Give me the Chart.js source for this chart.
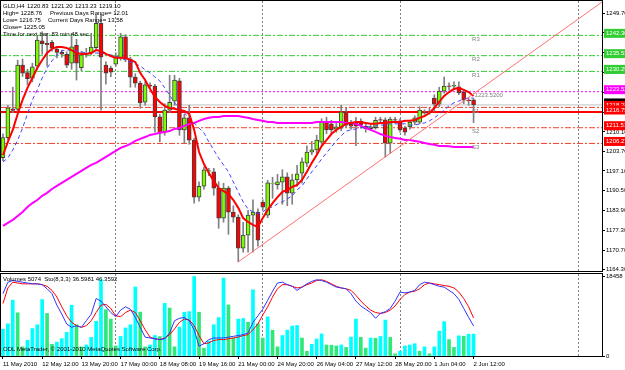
<!DOCTYPE html>
<html lang="en">
<head>
<meta charset="UTF-8">
<title>GLD,H4</title>
<script src="https://cdn.jsdelivr.net/npm/chart.js"></script>
<style>
  body { margin: 0; background: #fff; }
  .wrap { position: relative; width: 625px; height: 370px; overflow: hidden; background: #fff; }
  #priceChart { position: absolute; left: 0; top: 0; }
  #volChart { position: absolute; left: 0; top: 273px; }
</style>
</head>
<body>
<div class="wrap">
  <canvas id="priceChart" width="625" height="273"></canvas>
  <canvas id="volChart" width="625" height="97"></canvas>
</div>
<script>
// time axis: one slot per H4 candle, labels every 8 bars
const tickLabels = ['11 May 2010', '12 May 12:00', '13 May 20:00', '17 May 00:00', '18 May 08:00', '19 May 16:00',
  '21 May 00:00', '24 May 20:00', '26 May 04:00', '27 May 12:00', '28 May 20:00', '1 Jun 04:00', '2 Jun 12:00'];
const tickBars = [0, 8, 16, 24, 32, 40, 48, 56, 64, 72, 80, 88, 96];
const weekBreaks = [23, 53, 81, 117.4];

const open = [
  1201.5, 1208.2, 1217.8, 1217.6, 1232.4, 1229.9, 1228.0, 1232.0, 1240.5, 1239.6,
  1240.0, 1237.7, 1236.6, 1236.0, 1233.0, 1239.0, 1231.5, 1236.0, 1236.4, 1238.2,
  1246.3, 1232.4, 1231.4, 1232.7, 1234.8, 1241.8, 1234.4, 1228.4, 1226.4, 1220.0,
  1225.7, 1225.4, 1215.1, 1210.1, 1217.4, 1220.4, 1227.1, 1210.8, 1214.8, 1207.4,
  1188.4, 1192.0, 1197.0, 1196.8, 1191.4, 1181.4, 1191.4, 1183.4, 1181.7, 1171.4,
  1175.7, 1182.4, 1183.4, 1186.7, 1182.4, 1192.8, 1192.5, 1193.4, 1195.1, 1189.7,
  1194.1, 1196.4, 1199.7, 1203.4, 1204.1, 1206.7, 1213.4, 1212.8, 1211.0, 1211.4,
  1216.8, 1212.6, 1213.0, 1213.6, 1212.0, 1211.2, 1211.5, 1214.2, 1214.1, 1206.4,
  1214.2, 1213.8, 1211.5, 1211.8, 1213.4, 1213.4, 1216.7, 1216.5, 1221.4, 1219.4,
  1223.7, 1225.5, 1225.4, 1225.1, 1223.4, 1220.7, 1220.83];
const high = [
  1209.5, 1219.0, 1225.0, 1234.0, 1234.4, 1231.0, 1233.0, 1242.0, 1243.5, 1243.0,
  1240.6, 1238.4, 1237.4, 1236.8, 1243.0, 1241.0, 1237.0, 1238.0, 1243.0, 1249.0,
  1249.3, 1233.5, 1232.0, 1236.5, 1243.0, 1242.5, 1235.0, 1229.5, 1227.0, 1226.8,
  1226.5, 1226.0, 1216.0, 1219.5, 1229.0, 1229.0, 1228.0, 1216.0, 1219.0, 1208.0,
  1193.5, 1198.5, 1198.0, 1198.0, 1193.5, 1193.0, 1192.0, 1185.5, 1182.5, 1180.0,
  1184.0, 1187.5, 1184.5, 1187.5, 1194.0, 1195.0, 1196.0, 1197.5, 1196.5, 1196.0,
  1199.0, 1201.5, 1205.5, 1207.0, 1209.0, 1214.5, 1215.0, 1214.0, 1213.0, 1219.0,
  1218.0, 1214.0, 1215.0, 1214.5, 1213.0, 1212.5, 1215.0, 1215.0, 1214.8, 1215.0,
  1215.0, 1214.5, 1212.0, 1214.0, 1215.5, 1218.5, 1217.5, 1218.0, 1222.5, 1225.0,
  1228.4, 1226.5, 1226.8, 1226.8, 1224.0, 1221.5, 1221.20];
const low = [
  1200.5, 1207.5, 1216.5, 1216.8, 1228.6, 1225.8, 1226.8, 1231.0, 1236.0, 1232.0,
  1237.0, 1234.8, 1235.0, 1231.5, 1231.0, 1227.4, 1230.5, 1235.0, 1235.8, 1237.5,
  1217.4, 1226.0, 1228.5, 1232.0, 1234.0, 1233.5, 1225.0, 1225.0, 1218.0, 1219.0,
  1224.5, 1210.0, 1206.8, 1209.0, 1216.5, 1219.0, 1209.0, 1206.5, 1206.0, 1186.4,
  1187.0, 1191.0, 1195.5, 1189.0, 1178.0, 1180.0, 1176.0, 1180.0, 1166.8, 1170.0,
  1170.0, 1170.0, 1172.0, 1184.0, 1181.5, 1188.0, 1191.0, 1186.0, 1185.5, 1186.0,
  1192.0, 1193.0, 1198.5, 1202.5, 1203.0, 1206.0, 1209.5, 1209.5, 1210.0, 1210.5,
  1211.5, 1211.0, 1205.5, 1211.5, 1210.0, 1210.5, 1211.0, 1213.0, 1201.7, 1203.0,
  1213.0, 1210.0, 1209.0, 1211.0, 1212.5, 1212.8, 1216.0, 1216.0, 1217.0, 1218.5,
  1223.0, 1224.0, 1224.2, 1222.5, 1219.5, 1219.0, 1213.23];
const close = [
  1208.2, 1218.1, 1217.3, 1232.4, 1229.7, 1227.9, 1231.8, 1240.7, 1239.5, 1239.2,
  1238.0, 1236.6, 1236.0, 1232.4, 1238.5, 1233.0, 1235.8, 1236.3, 1238.4, 1246.3,
  1235.0, 1229.7, 1230.0, 1235.1, 1241.8, 1234.4, 1228.4, 1226.4, 1219.8, 1225.8,
  1225.4, 1215.1, 1209.7, 1217.4, 1220.0, 1227.4, 1210.8, 1214.8, 1207.4, 1188.4,
  1192.0, 1197.5, 1197.2, 1191.4, 1181.4, 1191.4, 1183.4, 1181.7, 1171.4, 1175.7,
  1182.4, 1183.4, 1174.0, 1185.0, 1193.1, 1192.9, 1193.5, 1195.1, 1189.7, 1194.1,
  1196.1, 1200.1, 1203.4, 1204.1, 1207.4, 1213.4, 1210.8, 1210.8, 1211.8, 1216.8,
  1212.4, 1212.0, 1212.0, 1212.4, 1211.2, 1211.8, 1214.0, 1214.0, 1206.4, 1214.4,
  1214.0, 1210.8, 1210.0, 1213.4, 1214.8, 1217.4, 1216.4, 1216.8, 1219.4, 1223.7,
  1225.4, 1225.3, 1225.6, 1223.1, 1220.7, 1220.5, 1219.10];

// moving averages
const maRed = [
  1202.4, 1206.8, 1210.8, 1216.1, 1220.8, 1224.8, 1228.1, 1231.4, 1234.1, 1236.4,
  1237.8, 1238.4, 1238.4, 1238.1, 1237.4, 1236.4, 1236.1, 1236.1, 1236.4, 1237.4,
  1237.1, 1236.1, 1235.4, 1234.8, 1234.8, 1234.8, 1234.1, 1233.4, 1229.8, 1227.4,
  1224.4, 1221.8, 1220.1, 1218.8, 1218.1, 1217.8, 1217.4, 1217.1, 1216.1, 1210.8,
  1203.4, 1199.4, 1196.4, 1193.8, 1191.4, 1190.4, 1189.4, 1187.4, 1184.8, 1181.4,
  1180.1, 1179.1, 1178.4, 1181.4, 1184.1, 1186.4, 1188.4, 1190.1, 1190.8, 1191.8,
  1192.4, 1194.1, 1196.8, 1199.8, 1202.4, 1205.4, 1207.4, 1209.4, 1210.8, 1211.8,
  1212.8, 1213.1, 1213.4, 1213.4, 1213.1, 1212.8, 1212.8, 1213.1, 1213.1, 1213.4,
  1213.4, 1213.4, 1213.8, 1213.8, 1214.1, 1214.8, 1215.4, 1216.4, 1218.1, 1220.1,
  1222.1, 1223.4, 1224.4, 1224.8, 1224.1, 1223.4, 1222.1];
const maBlue = [
  1200.1, 1201.4, 1204.1, 1207.4, 1211.4, 1216.1, 1220.8, 1224.1, 1228.1, 1231.4,
  1233.8, 1235.8, 1237.1, 1237.4, 1237.4, 1237.1, 1236.8, 1236.4, 1236.4, 1236.4,
  1236.4, 1236.1, 1235.8, 1235.4, 1234.8, 1234.1, 1233.4, 1232.8, 1232.1, 1230.8,
  1229.8, 1228.4, 1227.1, 1224.8, 1222.4, 1219.8, 1218.1, 1216.4, 1214.8, 1213.1,
  1211.4, 1209.8, 1206.8, 1204.1, 1201.4, 1199.1, 1196.8, 1193.4, 1190.1, 1186.8,
  1184.4, 1183.4, 1182.8, 1183.4, 1184.8, 1185.1, 1186.1, 1186.8, 1187.8, 1188.8,
  1190.8, 1192.1, 1194.4, 1196.8, 1198.8, 1201.1, 1203.1, 1205.1, 1207.1, 1208.8,
  1210.4, 1210.8, 1211.1, 1211.4, 1211.8, 1211.8, 1212.1, 1212.4, 1212.4, 1212.8,
  1212.8, 1212.8, 1212.8, 1212.4, 1212.4, 1212.8, 1213.1, 1213.8, 1214.8, 1216.1,
  1217.4, 1218.8, 1219.8, 1220.4, 1221.1, 1221.4, 1221.4];
const maMagenta = [
  1178.8, 1179.8, 1180.8, 1182.1, 1183.4, 1185.1, 1186.4, 1187.4, 1188.8, 1189.8,
  1191.1, 1192.1, 1193.1, 1194.1, 1195.1, 1196.1, 1197.1, 1198.1, 1199.1, 1199.8,
  1200.8, 1201.8, 1202.8, 1203.8, 1204.8, 1205.4, 1206.1, 1207.1, 1207.8, 1208.4,
  1209.1, 1209.4, 1209.8, 1210.1, 1210.4, 1211.1, 1211.4, 1212.1, 1212.8, 1213.1,
  1213.8, 1214.4, 1214.8, 1215.1, 1215.1, 1215.4, 1215.4, 1215.4, 1215.4, 1215.1,
  1214.8, 1214.4, 1214.1, 1213.8, 1213.4, 1213.4, 1213.1, 1213.1, 1213.1, 1213.1,
  1213.1, 1213.1, 1213.1, 1213.1, 1213.4, 1213.4, 1213.4, 1213.4, 1213.4, 1213.4,
  1213.1, 1213.1, 1212.8, 1212.1, 1211.4, 1210.8, 1210.1, 1209.4, 1208.8, 1208.4,
  1208.1, 1207.8, 1207.4, 1207.4, 1207.1, 1206.8, 1206.4, 1206.1, 1205.8, 1205.4,
  1205.4, 1205.3, 1205.1, 1205.1, 1205.1, 1205.1, 1205.1];

// lower window
const volumes = [
  6220, 7470, 12960, 10030, 2120, 3660, 6370, 7250, 13100, 9880,
  2710, 3220, 4030, 5490, 11790, 7250, 2120, 2560, 4320, 8050,
  17710, 10760, 8560, 2340, 4540, 6510, 7250, 16030, 10170, 2120,
  2560, 4760, 4500, 12220, 11130, 2120, 6730, 10170, 10300, 18458,
  10170, 1830, 3440, 7250, 8930, 18080, 11860, 4170, 8560, 8710,
  7830, 15370, 7470, 4170, 9080, 6000, 2120, 4760, 6000, 6950,
  7100, 4170, 1100, 2710, 3950, 5120, 2560, 2500, 2340, 2560,
  1980, 4390, 8560, 4320, 1830, 4170, 4100, 4540, 8340, 4320,
  510, 1100, 2340, 2560, 2850, 1100, 2120, 510, 2120, 5780,
  7980, 3810, 1980, 4690, 4600, 5050, 5074];
const stochK = [
  76, 90, 92, 91, 90, 89, 88, 88, 87, 82,
  76, 62, 51, 39, 35, 37, 35, 43, 51, 70,
  67, 60, 53, 48, 56, 60, 57, 47, 35, 23,
  22, 21, 20, 21, 28, 43, 46, 47, 43, 32,
  12, 15, 20, 22, 22, 22, 23, 24, 25, 26,
  28, 41, 49, 57, 68, 79, 89, 90, 87, 85,
  80, 84, 88, 91, 93, 92, 90, 87, 84, 83,
  82, 76, 67, 61, 57, 53, 46, 52, 54, 58,
  67, 78, 77, 78, 80, 87, 90, 89, 87, 85,
  84, 80, 76, 69, 58, 47, 36.6];
const stochD = [
  64, 83, 90, 89, 88, 88, 88, 88, 87, 85,
  80, 72, 60, 49, 41, 37, 35, 37, 43, 53,
  62, 63, 58, 49, 48, 53, 56, 53, 43, 32,
  23, 21, 20, 22, 26, 33, 41, 45, 44, 37,
  25, 15, 16, 19, 20, 20, 21, 22, 23, 25,
  26, 32, 39, 50, 60, 72, 82, 87, 87, 85,
  83, 84, 87, 89, 92, 93, 91, 88, 85, 83,
  82, 80, 74, 67, 61, 56, 53, 52, 53, 56,
  61, 69, 75, 78, 79, 82, 87, 89, 88, 87,
  86, 85, 83, 78, 70, 60, 46.4];

const priceTicks = [1249.70, 1243.10, 1236.50, 1229.90, 1223.30, 1216.70, 1210.10, 1203.70,
  1197.10, 1190.50, 1183.90, 1177.30, 1170.70, 1164.30];
const volTicks = [0, 18458];
const pivotNames = ['R3', 'R2', 'R1', 'PP', 'S1', 'S2', 'S3'];
const pivotValues = [1242.30, 1235.53, 1230.29, 1223.52, 1218.28, 1211.51, 1206.27];
const dayLow = 1216.75;
const bidPrice = 1219.10;
const trendBars = [48, 122.2];
const trendPrices = [1166.8, 1253.4];

const X_MIN = -0.4, X_MAX = 122.2;
const Y_MIN = 1163.75, Y_MAX = 1253.75;
const FONT = '"Liberation Sans", Arial, sans-serif';

Chart.defaults.font.family = FONT;
Chart.defaults.font.size = 6;
Chart.defaults.color = '#000';

const pts = arr => arr.map((v, i) => ({ x: i, y: v }));
const hline = v => [{ x: X_MIN, y: v }, { x: X_MAX, y: v }];

const frame = {
  id: 'frame',
  afterDraw(chart) {
    const { ctx, chartArea: a } = chart;
    ctx.save();
    ctx.strokeStyle = '#000';
    ctx.lineWidth = 1;
    ctx.strokeRect(a.left - 0.5, a.top - 0.5, a.right - a.left + 1, a.bottom - a.top + 1);
    ctx.restore();
  }
};

// pivot / level lines
const levelSets = pivotValues.map((v, k) => ({
  type: 'line', data: hline(v), pointRadius: 0, borderWidth: 1, order: 10,
  borderColor: k < 3 ? '#32cd32' : (k === 3 ? '#ff00ff' : '#f0402a'),
  borderDash: k === 3 ? [2, 2] : [6, 2, 2, 2]
}));
levelSets.push({ type: 'line', data: hline(bidPrice), borderColor: '#c0c0c0', borderWidth: 1, pointRadius: 0, order: 11 });
levelSets.push({ type: 'line', data: hline(dayLow), borderColor: '#ff0000', borderWidth: 2, pointRadius: 0, order: 9 });

const priceLabels = {
  id: 'priceLabels',
  afterDraw(chart) {
    const { ctx, chartArea: a, scales } = chart;
    const y = scales.y, x = scales.x;
    ctx.save();
    ctx.font = '6px ' + FONT;
    ctx.textBaseline = 'middle';

    // level names on the chart
    ctx.fillStyle = '#808080';
    pivotValues.forEach((v, k) => {
      const txt = k === 3 ? v.toFixed(4) : pivotNames[k];
      ctx.fillText(txt, x.getPixelForValue(k === 3 ? 96.2 : 95.7), y.getPixelForValue(v) + 4);
    });

    // coloured price boxes on the right scale
    const boxes = [
      [pivotValues[0], '#32cd32'], [pivotValues[1], '#32cd32'], [pivotValues[2], '#32cd32'],
      [pivotValues[3], '#ff00ff'], [pivotValues[5], '#ff0000'], [pivotValues[6], '#ff0000'],
      [bidPrice, '#000000'], [pivotValues[4], '#ff0000'], [dayLow, '#ff0000']
    ];
    boxes.forEach(([v, c]) => {
      const py = y.getPixelForValue(v) - 2;
      ctx.fillStyle = c;
      ctx.fillRect(a.right + 2, py - 4.5, chart.width - a.right - 2, 9);
      ctx.fillStyle = '#fff';
      ctx.fillText(v.toFixed(2), a.right + 4, py);
    });

    // info block
    ctx.fillStyle = '#000';
    const info = [
      ['GLD,H4', 3, 6], ['1220.83', 27, 6], ['1221.20', 51, 6], ['1213.23', 75, 6], ['1219.10', 99, 6],
      ['High= 1228.76', 3, 13], ['Previous Days Range= 12.01', 50, 13],
      ['Low= 1216.75', 3, 20], ['Current Days Range= 13.58', 48, 20],
      ['Close= 1225.05', 3, 27],
      ['Time for next bar: 83 min 48 sec', 3, 34]
    ];
    info.forEach(([t, tx, ty]) => ctx.fillText(t, tx, ty));
    ctx.restore();
  }
};

new Chart(document.getElementById('priceChart'), {
  type: 'bar',
  data: {
    datasets: [
      ...levelSets,
      { type: 'bar', data: open.map((o, i) => ({ x: i, y: [low[i], high[i]] })),
        backgroundColor: '#808080', barThickness: 1, grouped: false, order: 8 },
      { type: 'bar', data: open.map((o, i) => ({ x: i, y: [o, close[i]] })),
        backgroundColor: open.map((o, i) => close[i] >= o ? '#7cfc00' : '#ff0000'),
        borderColor: '#404040', borderWidth: 1, borderSkipped: false, barThickness: 4, grouped: false, order: 7 },
      { type: 'line', data: pts(maMagenta), borderColor: '#ff00ff', borderWidth: 2, pointRadius: 0, order: 5 },
      { type: 'line', data: pts(maBlue), borderColor: '#4444ff', borderWidth: 1, borderDash: [4, 3], pointRadius: 0, order: 4 },
      { type: 'line', data: pts(maRed), borderColor: '#ff0000', borderWidth: 2, pointRadius: 0, order: 3 },
      { type: 'line', data: trendBars.map((b, k) => ({ x: b, y: trendPrices[k] })),
        borderColor: '#ff7070', borderWidth: 1, pointRadius: 0, order: 2 }
    ]
  },
  options: {
    responsive: false,
    animation: false,
    events: [],
    layout: { padding: { left: 1, top: 1, right: 0, bottom: 2 } },
    plugins: { legend: { display: false }, tooltip: { enabled: false } },
    scales: {
      x: {
        type: 'linear', min: X_MIN, max: X_MAX, offset: false,
        afterBuildTicks: s => { s.ticks = weekBreaks.map(v => ({ value: v })); },
        ticks: { display: false },
        grid: { color: '#808080', drawTicks: false, offset: false },
        border: { display: false, dash: [2, 2] }
      },
      y: {
        position: 'right', min: Y_MIN, max: Y_MAX,
        afterBuildTicks: s => { s.ticks = priceTicks.map(v => ({ value: v })); },
        afterFit: s => { s.width = 23; s.paddingTop = 0; s.paddingBottom = 0; },
        ticks: { padding: 1, callback: v => v.toFixed(2) },
        grid: { drawOnChartArea: false, color: '#000', tickLength: 3 },
        border: { display: false }
      }
    }
  },
  plugins: [frame, priceLabels]
});

const lowerText = {
  id: 'lowerText',
  afterDraw(chart) {
    const { ctx } = chart;
    ctx.save();
    ctx.font = '6px ' + FONT;
    ctx.textBaseline = 'middle';
    ctx.fillStyle = '#000';
    ctx.fillText('Volumes 5074  Sto(8,3,3) 36.5981 46.3592', 3, 6);
    ctx.fillText('ODL MetaTrader, \u00a9 2001-2010 MetaQuotes Software Corp.', 3, 76);
    ctx.restore();
  }
};

new Chart(document.getElementById('volChart'), {
  type: 'bar',
  data: {
    datasets: [
      { type: 'line', data: pts(stochK), xAxisID: 'x', yAxisID: 'ys', borderColor: '#3333ff', borderWidth: 1, pointRadius: 0, order: 1 },
      { type: 'line', data: pts(stochD), xAxisID: 'x', yAxisID: 'ys', borderColor: '#ff0000', borderWidth: 1, pointRadius: 0, order: 2 },
      { type: 'bar', data: pts(volumes), xAxisID: 'x', yAxisID: 'yv',
        backgroundColor: volumes.map((v, i) => (i === 0 || v > volumes[i - 1]) ? '#00ffff' : '#2ee87a'),
        barThickness: 3, order: 3 }
    ]
  },
  options: {
    responsive: false,
    animation: false,
    events: [],
    layout: { padding: { left: 1, top: 1, right: 0, bottom: 1 } },
    plugins: { legend: { display: false }, tooltip: { enabled: false } },
    scales: {
      x: {
        type: 'linear', position: 'bottom', min: X_MIN, max: X_MAX, offset: false,
        afterBuildTicks: s => { s.ticks = tickBars.map(v => ({ value: v })); },
        afterFit: s => { s.height = 13; s.paddingLeft = 0; s.paddingRight = 0; },
        ticks: {
          autoSkip: false, maxRotation: 0, minRotation: 0, align: 'start', padding: 2,
          callback: v => { const k = tickBars.indexOf(v); return k >= 0 ? tickLabels[k] : ''; }
        },
        grid: { drawOnChartArea: false, color: '#000', tickLength: 3, offset: false },
        border: { display: false }
      },
      xs: {
        type: 'linear', position: 'bottom', min: X_MIN, max: X_MAX, offset: false,
        afterBuildTicks: s => { s.ticks = weekBreaks.map(v => ({ value: v })); },
        ticks: { display: false },
        grid: { color: '#808080', drawTicks: false, offset: false },
        border: { display: false, dash: [2, 2] }
      },
      yv: {
        position: 'right', min: 0, max: 19040,
        afterBuildTicks: s => { s.ticks = volTicks.map(v => ({ value: v })); },
        afterFit: s => { s.width = 23; s.paddingTop = 0; s.paddingBottom = 0; },
        ticks: { padding: 1, callback: v => String(v) },
        grid: { drawOnChartArea: false, color: '#000', tickLength: 3 },
        border: { display: false }
      },
      ys: { display: false, min: 0, max: 100 }
    }
  },
  plugins: [frame, lowerText]
});
</script>
</body>
</html>
